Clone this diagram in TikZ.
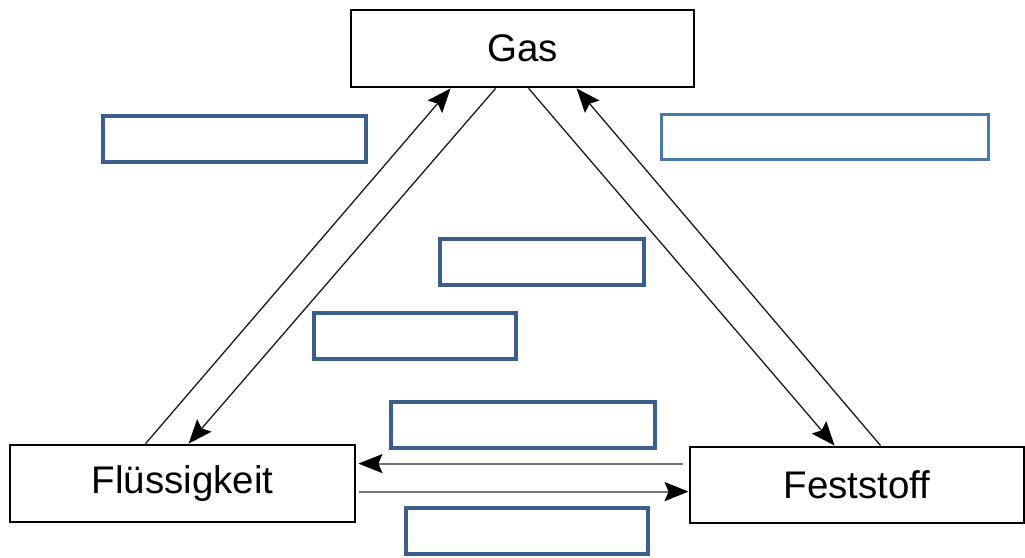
\documentclass[tikz,border=0pt]{standalone}
\usepackage{fontspec}
\setmainfont{Liberation Sans}
\usetikzlibrary{arrows.meta,calc}
\definecolor{boxblue}{RGB}{59,94,140}
\definecolor{lightblue}{RGB}{74,120,168}
\begin{document}
\begin{tikzpicture}[x=1pt,y=-1pt,
  state/.style={draw=black,line width=2.8pt,inner sep=0pt,font=\fontsize{38.5}{46}\selectfont},
  blank/.style={draw=boxblue,line width=4pt,inner sep=0pt},
  blankthin/.style={draw=lightblue,line width=2.8pt,inner sep=0pt},
  conn/.style={draw=black!90,line width=1.3pt,-{Stealth[length=24pt,width=19pt,inset=4pt,color=black]}},
  hconn/.style={draw=black!55,line width=2.2pt,-{Stealth[length=24pt,width=19pt,inset=4pt,color=black]}}]
\useasboundingbox (0,0) rectangle (1025,557);
\node[state,minimum width=343pt,minimum height=77pt] (gas) at (522.5,48.5) {Gas};
\node[state,minimum width=345pt,minimum height=77pt] (fl) at (182.5,483.5) {Flüssigkeit};
\node[state,minimum width=334pt,minimum height=76pt] (fe) at (857,485) {Feststoff};
\node[blank,minimum width=263pt,minimum height=46pt] (b1) at (234.5,139) {};
\node[blankthin,minimum width=327pt,minimum height=45pt] (b2) at (825,137) {};
\node[blank,minimum width=204pt,minimum height=46pt] (b3) at (542,262) {};
\node[blank,minimum width=202pt,minimum height=46pt] (b4) at (415,336) {};
\node[blank,minimum width=264pt,minimum height=46pt] (b5) at (523,425) {};
\node[blank,minimum width=242pt,minimum height=46pt] (b6) at (527,531) {};
% diagonal arrows
\draw[conn] ([xshift=137pt]fl.north west) -- ([xshift=101pt]gas.south west);
\draw[conn] ([xshift=146pt]gas.south west) -- ([xshift=180pt]fl.north west);
\draw[conn] ([xshift=179pt]gas.south west) -- ([xshift=146pt]fe.north west);
\draw[conn] ([xshift=192pt]fe.north west) -- ([xshift=227pt]gas.south west);
% horizontal arrows
\draw[hconn] ($(fe.north west)+(-6,18)$) -- ($(fl.north east)+(2,20)$);
\draw[hconn] ($(fl.north east)+(3,48)$) -- ($(fe.north west)+(0,46)$);
\end{tikzpicture}
\end{document}
